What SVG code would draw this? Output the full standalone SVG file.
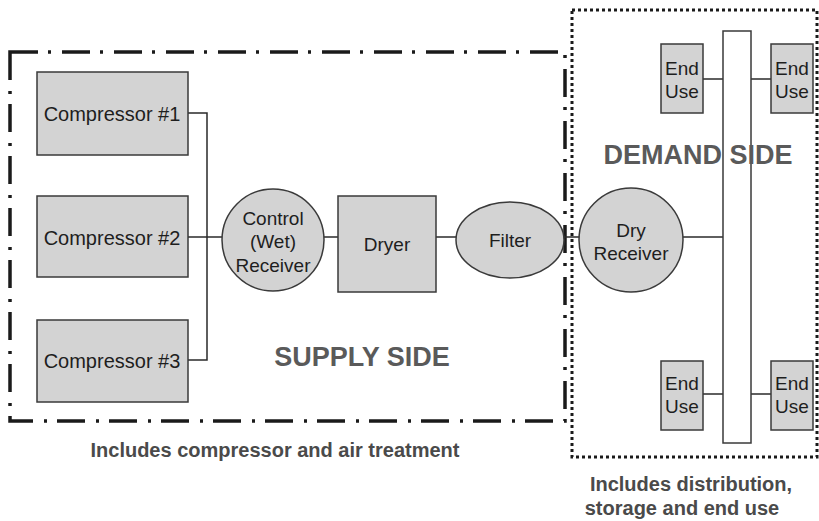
<svg xmlns="http://www.w3.org/2000/svg" width="819" height="521" viewBox="0 0 819 521">
<style>
.box{fill:#d3d3d3;stroke:#3a3a3a;stroke-width:1.5}
.bus{fill:#ffffff;stroke:#3a3a3a;stroke-width:1.5}
.ln{fill:none;stroke:#2a2a2a;stroke-width:1.5}
.t{font-family:"Liberation Sans",Arial,sans-serif;font-size:19px;fill:#1e1e1e;text-anchor:middle}
.c{font-size:20px}
.big{font-family:"Liberation Sans",Arial,sans-serif;font-size:27px;font-weight:bold;fill:#5a5a5a;text-anchor:middle}
.cap{font-family:"Liberation Sans",Arial,sans-serif;font-size:20px;font-weight:bold;fill:#4a4a4a;text-anchor:middle}
.supply{fill:none;stroke:#1a1a1a;stroke-width:3.5;stroke-dasharray:28 10 3 11}
.demand{fill:none;stroke:#1a1a1a;stroke-width:3;stroke-dasharray:3 3}
</style>
<rect width="819" height="521" fill="#ffffff"/>
<g id="boundaries">
<rect class="supply" x="10" y="52" width="555" height="369"/>
<rect class="demand" x="572" y="10" width="245" height="447"/>
</g>
<g id="connectors">
<polyline class="ln" points="188,113 207,113 207,360 188,360"/>
<line class="ln" x1="188" y1="237" x2="222" y2="237"/>
<line class="ln" x1="324" y1="237" x2="338" y2="237"/>
<line class="ln" x1="436" y1="237" x2="456" y2="237"/>
<line class="ln" x1="563" y1="237" x2="580" y2="237"/>
<line class="ln" x1="683" y1="237" x2="723" y2="237"/>
<line class="ln" x1="703" y1="79" x2="723" y2="79"/>
<line class="ln" x1="751" y1="79" x2="771" y2="79"/>
<line class="ln" x1="703" y1="394" x2="723" y2="394"/>
<line class="ln" x1="751" y1="394" x2="771" y2="394"/>
</g>
<g id="compressor1"><rect class="box" x="37" y="72" width="151" height="83"/><text class="t c" x="112" y="121">Compressor #1</text></g>
<g id="compressor2"><rect class="box" x="37" y="196" width="151" height="81"/><text class="t c" x="112" y="245">Compressor #2</text></g>
<g id="compressor3"><rect class="box" x="37" y="320" width="151" height="82"/><text class="t c" x="112" y="368">Compressor #3</text></g>
<g id="control-receiver"><circle class="box" cx="273" cy="240" r="51"/><text class="t" x="273" y="225">Control</text><text class="t" x="273" y="248">(Wet)</text><text class="t" x="273" y="272">Receiver</text></g>
<g id="dryer"><rect class="box" x="338" y="196" width="98" height="96"/><text class="t" x="387" y="251">Dryer</text></g>
<g id="filter"><ellipse class="box" cx="510" cy="240" rx="54" ry="38"/><text class="t" x="510" y="247">Filter</text></g>
<g id="dry-receiver"><circle class="box" cx="631" cy="240" r="52"/><text class="t" x="631" y="237">Dry</text><text class="t" x="631" y="260">Receiver</text></g>
<g id="distribution-bus"><rect class="bus" x="723" y="31" width="28" height="412"/></g>
<g id="enduse-tl"><rect class="box" x="661" y="44" width="42" height="69"/><text class="t" x="682" y="75">End</text><text class="t" x="682" y="98">Use</text></g>
<g id="enduse-tr"><rect class="box" x="771" y="44" width="42" height="69"/><text class="t" x="792" y="75">End</text><text class="t" x="792" y="98">Use</text></g>
<g id="enduse-bl"><rect class="box" x="661" y="361" width="42" height="69"/><text class="t" x="682" y="390">End</text><text class="t" x="682" y="413">Use</text></g>
<g id="enduse-br"><rect class="box" x="771" y="361" width="42" height="69"/><text class="t" x="792" y="390">End</text><text class="t" x="792" y="413">Use</text></g>
<g id="labels">
<text class="big" x="362" y="366">SUPPLY SIDE</text>
<text class="big" x="698" y="164">DEMAND SIDE</text>
<text class="cap" x="275" y="457">Includes compressor and air treatment</text>
<text class="cap" x="691" y="491">Includes distribution,</text>
<text class="cap" x="682" y="515">storage and end use</text>
</g>
</svg>
